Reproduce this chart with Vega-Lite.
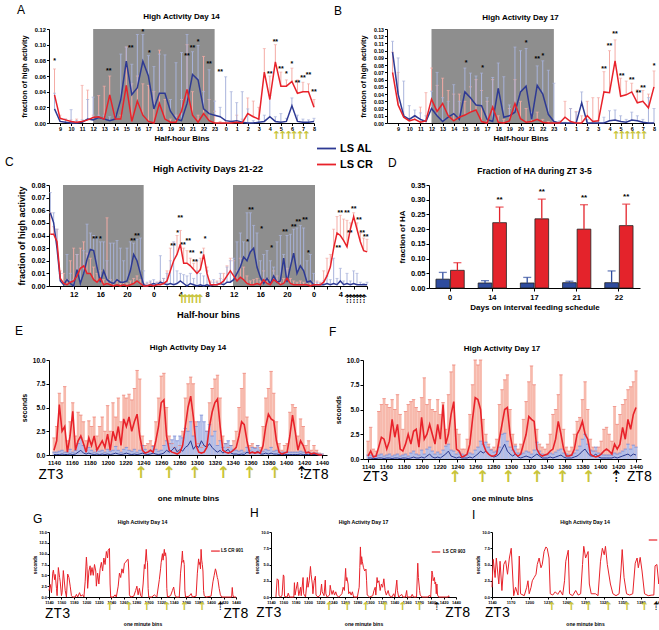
{
"$schema": "https://vega.github.io/schema/vega-lite/v6.json",
"padding": {"left": 5, "top": 4, "right": 0, "bottom": 0},
"background": "white",
"config": {
 "font": "Liberation Sans",
 "view": {"stroke": null},
 "axis": {"grid": false, "domainColor": "#000", "tickColor": "#000", "labelColor": "#000", "titleColor": "#000", "labelFontWeight": "bold", "titleFontWeight": "bold", "domainWidth": 1, "tickWidth": 1, "labelOverlap": false},
 "title": {"fontWeight": "bold", "color": "#000"},
 "legend": {"labelColor": "#000"}
},
"datasets": {
 "A": [
  {"x":8.5,"a":0.018,"ah":0.038,"c":0.036,"ch":0.069},{"x":9,"a":0.002,"ah":0.005,"c":0.006,"ch":0.010},{"x":9.5,"a":0.001,"ah":0.005,"c":0.004,"ch":0.005},{"x":10,"a":0.000,"ah":0.017,"c":0.002,"ch":0.004},{"x":10.5,"a":0.000,"ah":0.003,"c":0.001,"ch":0.005},{"x":11,"a":0.001,"ah":0.004,"c":0.002,"ch":0.048},{"x":11.5,"a":0.005,"ah":0.030,"c":0.004,"ch":0.042},{"x":12,"a":0.004,"ah":0.033,"c":0.007,"ch":0.010},{"x":12.5,"a":0.007,"ah":0.010,"c":0.008,"ch":0.035},{"x":13,"a":0.005,"ah":0.010,"c":0.005,"ch":0.047},{"x":13.5,"a":0.003,"ah":0.008,"c":0.036,"ch":0.060},{"x":14,"a":0.005,"ah":0.010,"c":0.005,"ch":0.010},{"x":14.5,"a":0.030,"ah":0.088,"c":0.005,"ch":0.010},{"x":15,"a":0.079,"ah":0.097,"c":0.048,"ch":0.097},{"x":15.5,"a":0.036,"ah":0.075,"c":0.002,"ch":0.050},{"x":16,"a":0.045,"ah":0.113,"c":0.028,"ch":0.060},{"x":16.5,"a":0.079,"ah":0.113,"c":0.010,"ch":0.050},{"x":17,"a":0.060,"ah":0.086,"c":0.002,"ch":0.048},{"x":17.5,"a":0.018,"ah":0.072,"c":0.000,"ch":0.040},{"x":18,"a":0.038,"ah":0.088,"c":0.025,"ch":0.093},{"x":18.5,"a":0.038,"ah":0.087,"c":0.005,"ch":0.030},{"x":19,"a":0.015,"ah":0.030,"c":0.001,"ch":0.005},{"x":19.5,"a":0.005,"ah":0.077,"c":0.001,"ch":0.010},{"x":20,"a":0.003,"ah":0.090,"c":0.015,"ch":0.030},{"x":20.5,"a":0.025,"ah":0.113,"c":0.043,"ch":0.100},{"x":21,"a":0.062,"ah":0.091,"c":0.010,"ch":0.040},{"x":21.5,"a":0.055,"ah":0.099,"c":0.001,"ch":0.010},{"x":22,"a":0.018,"ah":0.040,"c":0.012,"ch":0.085},{"x":22.5,"a":0.012,"ah":0.068,"c":0.003,"ch":0.030},{"x":23,"a":0.010,"ah":0.028,"c":0.000,"ch":0.015},{"x":23.5,"a":0.008,"ah":0.020,"c":0.000,"ch":0.002},{"x":24,"a":0.003,"ah":0.059,"c":0.000,"ch":0.003},{"x":24.5,"a":0.002,"ah":0.040,"c":0.000,"ch":0.002},{"x":25,"a":0.003,"ah":0.026,"c":0.001,"ch":0.010},{"x":25.5,"a":0.001,"ah":0.040,"c":0.000,"ch":0.005},{"x":26,"a":0.000,"ah":0.018,"c":0.012,"ch":0.032},{"x":26.5,"a":0.000,"ah":0.003,"c":0.008,"ch":0.028},{"x":27,"a":0.001,"ah":0.005,"c":0.005,"ch":0.020},{"x":27.5,"a":0.002,"ah":0.010,"c":0.065,"ch":0.095},{"x":28,"a":0.008,"ah":0.035,"c":0.030,"ch":0.060},{"x":28.5,"a":0.002,"ah":0.008,"c":0.078,"ch":0.100},{"x":29,"a":0.001,"ah":0.012,"c":0.047,"ch":0.065},{"x":29.5,"a":0.002,"ah":0.006,"c":0.047,"ch":0.055},{"x":30,"a":0.022,"ah":0.032,"c":0.053,"ch":0.070},{"x":30.5,"a":0.002,"ah":0.010,"c":0.038,"ch":0.055},{"x":31,"a":0.001,"ah":0.005,"c":0.040,"ch":0.052},{"x":31.5,"a":0.001,"ah":0.004,"c":0.040,"ch":0.050},{"x":32,"a":0.002,"ah":0.006,"c":0.020,"ch":0.030}
 ],
 "sA": [
  {"x":8.5,"y":0.079,"s":"*"},{"x":13.4,"y":0.067,"s":"**"},{"x":15.4,"y":0.096,"s":"**"},{"x":16.5,"y":0.116,"s":"*"},{"x":17.1,"y":0.089,"s":"*"},{"x":20.5,"y":0.086,"s":"**"},{"x":21.0,"y":0.096,"s":"**"},{"x":21.5,"y":0.104,"s":"*"},{"x":22.5,"y":0.075,"s":"**"},{"x":23.5,"y":0.065,"s":"**"},{"x":28.0,"y":0.062,"s":"**"},{"x":28.5,"y":0.104,"s":"**"},{"x":29.0,"y":0.069,"s":"**"},{"x":29.5,"y":0.062,"s":"*"},{"x":30.0,"y":0.075,"s":"*"},{"x":30.5,"y":0.051,"s":"**"},{"x":31.0,"y":0.058,"s":"**"},{"x":31.5,"y":0.061,"s":"**"},{"x":32.0,"y":0.039,"s":"**"}
 ],
 "B": [
  {"x":8.5,"a":0.098,"ah":0.113,"c":0.070,"ch":0.098},{"x":9,"a":0.040,"ah":0.090,"c":0.025,"ch":0.070},{"x":9.5,"a":0.010,"ah":0.058,"c":0.008,"ch":0.012},{"x":10,"a":0.005,"ah":0.024,"c":0.003,"ch":0.005},{"x":10.5,"a":0.010,"ah":0.018,"c":0.005,"ch":0.010},{"x":11,"a":0.005,"ah":0.014,"c":0.001,"ch":0.022},{"x":11.5,"a":0.002,"ah":0.010,"c":0.003,"ch":0.042},{"x":12,"a":0.020,"ah":0.044,"c":0.033,"ch":0.076},{"x":12.5,"a":0.010,"ah":0.070,"c":0.016,"ch":0.052},{"x":13,"a":0.002,"ah":0.035,"c":0.027,"ch":0.062},{"x":13.5,"a":0.008,"ah":0.030,"c":0.010,"ch":0.045},{"x":14,"a":0.013,"ah":0.053,"c":0.003,"ch":0.040},{"x":14.5,"a":0.005,"ah":0.030,"c":0.008,"ch":0.040},{"x":15,"a":0.043,"ah":0.076,"c":0.011,"ch":0.030},{"x":15.5,"a":0.035,"ah":0.069,"c":0.015,"ch":0.050},{"x":16,"a":0.025,"ah":0.065,"c":0.018,"ch":0.060},{"x":16.5,"a":0.024,"ah":0.069,"c":0.002,"ch":0.045},{"x":17,"a":0.005,"ah":0.035,"c":0.000,"ch":0.030},{"x":17.5,"a":0.002,"ah":0.063,"c":0.022,"ch":0.060},{"x":18,"a":0.048,"ah":0.083,"c":0.001,"ch":0.010},{"x":18.5,"a":0.008,"ah":0.064,"c":0.000,"ch":0.005},{"x":19,"a":0.010,"ah":0.025,"c":0.003,"ch":0.020},{"x":19.5,"a":0.015,"ah":0.105,"c":0.027,"ch":0.060},{"x":20,"a":0.043,"ah":0.100,"c":0.006,"ch":0.030},{"x":20.5,"a":0.051,"ah":0.103,"c":0.001,"ch":0.020},{"x":21,"a":0.005,"ah":0.015,"c":0.002,"ch":0.010},{"x":21.5,"a":0.052,"ah":0.079,"c":0.005,"ch":0.015},{"x":22,"a":0.040,"ah":0.086,"c":0.001,"ch":0.005},{"x":22.5,"a":0.012,"ah":0.073,"c":0.000,"ch":0.002},{"x":23,"a":0.002,"ah":0.055,"c":0.000,"ch":0.002},{"x":23.5,"a":0.000,"ah":0.003,"c":0.000,"ch":0.002},{"x":24,"a":0.000,"ah":0.001,"c":0.008,"ch":0.030},{"x":24.5,"a":0.000,"ah":0.020,"c":0.002,"ch":0.020},{"x":25,"a":0.000,"ah":0.015,"c":0.000,"ch":0.016},{"x":25.5,"a":0.028,"ah":0.043,"c":0.000,"ch":0.010},{"x":26,"a":0.000,"ah":0.005,"c":0.010,"ch":0.030},{"x":26.5,"a":0.000,"ah":0.003,"c":0.002,"ch":0.035},{"x":27,"a":0.000,"ah":0.003,"c":0.003,"ch":0.035},{"x":27.5,"a":0.000,"ah":0.008,"c":0.043,"ch":0.071},{"x":28,"a":0.003,"ah":0.017,"c":0.042,"ch":0.100},{"x":28.5,"a":0.004,"ah":0.018,"c":0.086,"ch":0.115},{"x":29,"a":0.002,"ah":0.010,"c":0.037,"ch":0.062},{"x":29.5,"a":0.001,"ah":0.005,"c":0.039,"ch":0.058},{"x":30,"a":0.004,"ah":0.015,"c":0.043,"ch":0.055},{"x":30.5,"a":0.003,"ah":0.010,"c":0.028,"ch":0.046},{"x":31,"a":0.001,"ah":0.005,"c":0.030,"ch":0.045},{"x":31.5,"a":0.000,"ah":0.035,"c":0.021,"ch":0.040},{"x":32,"a":0.000,"ah":0.020,"c":0.050,"ch":0.072}
 ],
 "sB": [
  {"x":15.1,"y":0.083,"s":"*"},{"x":16.6,"y":0.076,"s":"*"},{"x":20.5,"y":0.110,"s":"*"},{"x":21.5,"y":0.088,"s":"**"},{"x":22.0,"y":0.092,"s":"*"},{"x":27.5,"y":0.075,"s":"**"},{"x":28.0,"y":0.106,"s":"**"},{"x":28.5,"y":0.123,"s":"**"},{"x":29.1,"y":0.065,"s":"**"},{"x":30.0,"y":0.059,"s":"**"},{"x":30.6,"y":0.042,"s":"**"},{"x":31.0,"y":0.048,"s":"**"},{"x":32.0,"y":0.079,"s":"*"}
 ],
 "C": [
  {"x":8.5,"a":0.058,"ah":0.074,"c":0.041,"ch":0.058},{"x":9,"a":0.050,"ah":0.058,"c":0.041,"ch":0.047},{"x":9.5,"a":0.030,"ah":0.045,"c":0.035,"ch":0.045},{"x":10,"a":0.004,"ah":0.010,"c":0.006,"ch":0.012},{"x":10.5,"a":0.001,"ah":0.003,"c":0.002,"ch":0.010},{"x":11,"a":0.005,"ah":0.025,"c":0.001,"ch":0.005},{"x":11.5,"a":0.002,"ah":0.010,"c":0.003,"ch":0.020},{"x":12,"a":0.000,"ah":0.005,"c":0.004,"ch":0.030},{"x":12.5,"a":0.013,"ah":0.025,"c":0.008,"ch":0.025},{"x":13,"a":0.002,"ah":0.015,"c":0.014,"ch":0.030},{"x":13.5,"a":0.010,"ah":0.028,"c":0.016,"ch":0.035},{"x":14,"a":0.021,"ah":0.049,"c":0.010,"ch":0.026},{"x":14.5,"a":0.029,"ah":0.042,"c":0.010,"ch":0.022},{"x":15,"a":0.028,"ah":0.040,"c":0.005,"ch":0.015},{"x":15.5,"a":0.015,"ah":0.038,"c":0.003,"ch":0.010},{"x":16,"a":0.003,"ah":0.035,"c":0.006,"ch":0.012},{"x":16.5,"a":0.012,"ah":0.035,"c":0.001,"ch":0.005},{"x":17,"a":0.005,"ah":0.020,"c":0.002,"ch":0.054},{"x":17.5,"a":0.003,"ah":0.034,"c":0.001,"ch":0.005},{"x":18,"a":0.002,"ah":0.034,"c":0.000,"ch":0.003},{"x":18.5,"a":0.005,"ah":0.036,"c":0.001,"ch":0.004},{"x":19,"a":0.003,"ah":0.030,"c":0.000,"ch":0.002},{"x":19.5,"a":0.003,"ah":0.020,"c":0.001,"ch":0.003},{"x":20,"a":0.004,"ah":0.030,"c":0.000,"ch":0.002},{"x":20.5,"a":0.012,"ah":0.035,"c":0.001,"ch":0.004},{"x":21,"a":0.025,"ah":0.034,"c":0.002,"ch":0.006},{"x":21.5,"a":0.020,"ah":0.037,"c":0.004,"ch":0.008},{"x":22,"a":0.010,"ah":0.038,"c":0.002,"ch":0.005},{"x":22.5,"a":0.001,"ah":0.012,"c":0.000,"ch":0.002},{"x":23,"a":0.000,"ah":0.003,"c":0.000,"ch":0.002},{"x":23.5,"a":0.001,"ah":0.004,"c":0.001,"ch":0.003},{"x":24,"a":0.002,"ah":0.005,"c":0.000,"ch":0.002},{"x":24.5,"a":0.001,"ah":0.003,"c":0.001,"ch":0.003},{"x":25,"a":0.003,"ah":0.024,"c":0.001,"ch":0.004},{"x":25.5,"a":0.002,"ah":0.006,"c":0.002,"ch":0.006},{"x":26,"a":0.001,"ah":0.010,"c":0.004,"ch":0.012},{"x":26.5,"a":0.002,"ah":0.020,"c":0.012,"ch":0.030},{"x":27,"a":0.001,"ah":0.035,"c":0.020,"ch":0.034},{"x":27.5,"a":0.002,"ah":0.012,"c":0.025,"ch":0.040},{"x":28,"a":0.004,"ah":0.010,"c":0.033,"ch":0.044},{"x":28.5,"a":0.002,"ah":0.009,"c":0.018,"ch":0.030},{"x":29,"a":0.000,"ah":0.008,"c":0.018,"ch":0.028},{"x":29.5,"a":0.002,"ah":0.010,"c":0.016,"ch":0.022},{"x":30,"a":0.001,"ah":0.006,"c":0.013,"ch":0.018},{"x":30.5,"a":0.000,"ah":0.012,"c":0.010,"ch":0.020},{"x":31,"a":0.001,"ah":0.010,"c":0.013,"ch":0.022},{"x":31.5,"a":0.000,"ah":0.008,"c":0.025,"ch":0.030},{"x":32,"a":0.001,"ah":0.012,"c":0.010,"ch":0.015},{"x":32.5,"a":0.000,"ah":0.003,"c":0.001,"ch":0.004},{"x":33,"a":0.001,"ah":0.005,"c":0.001,"ch":0.003},{"x":33.5,"a":0.001,"ah":0.003,"c":0.001,"ch":0.004},{"x":34,"a":0.002,"ah":0.010,"c":0.002,"ch":0.006},{"x":34.5,"a":0.001,"ah":0.005,"c":0.004,"ch":0.010},{"x":35,"a":0.003,"ah":0.015,"c":0.008,"ch":0.016},{"x":35.5,"a":0.003,"ah":0.020,"c":0.012,"ch":0.022},{"x":36,"a":0.005,"ah":0.022,"c":0.008,"ch":0.020},{"x":36.5,"a":0.010,"ah":0.035,"c":0.004,"ch":0.012},{"x":37,"a":0.015,"ah":0.042,"c":0.007,"ch":0.022},{"x":37.5,"a":0.023,"ah":0.035,"c":0.005,"ch":0.015},{"x":38,"a":0.020,"ah":0.058,"c":0.002,"ch":0.008},{"x":38.5,"a":0.027,"ah":0.058,"c":0.001,"ch":0.004},{"x":39,"a":0.030,"ah":0.048,"c":0.001,"ch":0.005},{"x":39.5,"a":0.015,"ah":0.042,"c":0.002,"ch":0.006},{"x":40,"a":0.007,"ah":0.020,"c":0.001,"ch":0.004},{"x":40.5,"a":0.002,"ah":0.025,"c":0.005,"ch":0.012},{"x":41,"a":0.006,"ah":0.028,"c":0.002,"ch":0.006},{"x":41.5,"a":0.002,"ah":0.020,"c":0.001,"ch":0.004},{"x":42,"a":0.008,"ah":0.015,"c":0.005,"ch":0.012},{"x":42.5,"a":0.003,"ah":0.035,"c":0.003,"ch":0.008},{"x":43,"a":0.004,"ah":0.040,"c":0.001,"ch":0.004},{"x":43.5,"a":0.022,"ah":0.025,"c":0.002,"ch":0.006},{"x":44,"a":0.003,"ah":0.040,"c":0.006,"ch":0.014},{"x":44.5,"a":0.015,"ah":0.041,"c":0.002,"ch":0.006},{"x":45,"a":0.026,"ah":0.045,"c":0.001,"ch":0.004},{"x":45.5,"a":0.010,"ah":0.046,"c":0.001,"ch":0.003},{"x":46,"a":0.016,"ah":0.048,"c":0.001,"ch":0.004},{"x":46.5,"a":0.012,"ah":0.046,"c":0.001,"ch":0.003},{"x":47,"a":0.003,"ah":0.020,"c":0.001,"ch":0.003},{"x":47.5,"a":0.004,"ah":0.025,"c":0.000,"ch":0.002},{"x":48,"a":0.001,"ah":0.010,"c":0.001,"ch":0.003},{"x":48.5,"a":0.001,"ah":0.003,"c":0.001,"ch":0.004},{"x":49,"a":0.001,"ah":0.002,"c":0.001,"ch":0.003},{"x":49.5,"a":0.001,"ah":0.004,"c":0.003,"ch":0.012},{"x":50,"a":0.002,"ah":0.008,"c":0.008,"ch":0.022},{"x":50.5,"a":0.001,"ah":0.005,"c":0.015,"ch":0.025},{"x":51,"a":0.002,"ah":0.022,"c":0.030,"ch":0.045},{"x":51.5,"a":0.001,"ah":0.006,"c":0.042,"ch":0.055},{"x":52,"a":0.004,"ah":0.014,"c":0.040,"ch":0.056},{"x":52.5,"a":0.001,"ah":0.004,"c":0.036,"ch":0.053},{"x":53,"a":0.002,"ah":0.010,"c":0.031,"ch":0.052},{"x":53.5,"a":0.001,"ah":0.004,"c":0.045,"ch":0.050},{"x":54,"a":0.002,"ah":0.012,"c":0.055,"ch":0.058},{"x":54.5,"a":0.001,"ah":0.010,"c":0.045,"ch":0.050},{"x":55,"a":0.001,"ah":0.003,"c":0.035,"ch":0.042},{"x":55.5,"a":0.001,"ah":0.002,"c":0.028,"ch":0.038},{"x":56,"a":0.001,"ah":0.003,"c":0.027,"ch":0.037}
 ],
 "sC": [
  {"x":15.2,"y":0.037,"s":"**"},{"x":16.0,"y":0.037,"s":"*"},{"x":20.9,"y":0.036,"s":"**"},{"x":21.5,"y":0.040,"s":"**"},{"x":26.9,"y":0.032,"s":"**"},{"x":27.6,"y":0.042,"s":"*"},{"x":28.0,"y":0.054,"s":"**"},{"x":28.4,"y":0.0325,"s":"**"},{"x":29.2,"y":0.036,"s":"**"},{"x":29.7,"y":0.026,"s":"**"},{"x":30.2,"y":0.019,"s":"**"},{"x":31.1,"y":0.025,"s":"*"},{"x":31.7,"y":0.037,"s":"*"},{"x":38.1,"y":0.035,"s":"*"},{"x":38.6,"y":0.060,"s":"**"},{"x":40.2,"y":0.045,"s":"*"},{"x":41.7,"y":0.030,"s":"*"},{"x":43.7,"y":0.043,"s":"**"},{"x":45.0,"y":0.047,"s":"**"},{"x":45.7,"y":0.051,"s":"**"},{"x":46.7,"y":0.052,"s":"**"},{"x":47.2,"y":0.026,"s":"*"},{"x":51.7,"y":0.030,"s":"**"},{"x":52.0,"y":0.058,"s":"**"},{"x":53.0,"y":0.058,"s":"**"},{"x":54.0,"y":0.061,"s":"**"},{"x":53.4,"y":0.042,"s":"**"},{"x":54.8,"y":0.052,"s":"**"},{"x":55.3,"y":0.042,"s":"**"},{"x":55.8,"y":0.039,"s":"**"}
 ],
 "D": [
  {"d":"0","g":"AL","v":0.030,"hi":0.053,"s":""},{"d":"0","g":"CR","v":0.060,"hi":0.086,"s":""},
  {"d":"14","g":"AL","v":0.017,"hi":0.025,"s":""},{"d":"14","g":"CR","v":0.222,"hi":0.275,"s":"**"},
  {"d":"17","g":"AL","v":0.017,"hi":0.036,"s":""},{"d":"17","g":"CR","v":0.235,"hi":0.302,"s":"**"},
  {"d":"21","g":"AL","v":0.018,"hi":0.023,"s":""},{"d":"21","g":"CR","v":0.200,"hi":0.283,"s":"**"},
  {"d":"22","g":"AL","v":0.018,"hi":0.058,"s":""},{"d":"22","g":"CR","v":0.212,"hi":0.285,"s":"**"}
 ],
 "E": [
  {"m":1140,"a":0.05,"ah":0.3,"c":0.5,"ch":1.8},{"m":1143,"a":0.05,"ah":0.3,"c":1.5,"ch":3.0},{"m":1146,"a":0.05,"ah":0.4,"c":5.3,"ch":6.5},{"m":1149,"a":0.1,"ah":0.5,"c":2.5,"ch":5.5},{"m":1152,"a":0.05,"ah":0.3,"c":3.0,"ch":7.2},{"m":1155,"a":0.05,"ah":0.3,"c":0.3,"ch":1.5},{"m":1158,"a":0.1,"ah":0.6,"c":2.0,"ch":3.5},{"m":1161,"a":0.05,"ah":0.3,"c":4.6,"ch":5.5},{"m":1164,"a":0.1,"ah":0.5,"c":0.5,"ch":2.0},{"m":1167,"a":0.3,"ah":1.2,"c":1.5,"ch":4.5},{"m":1170,"a":0.5,"ah":1.8,"c":2.0,"ch":4.2},{"m":1173,"a":0.2,"ah":1.0,"c":1.2,"ch":3.5},{"m":1176,"a":0.1,"ah":0.5,"c":0.3,"ch":1.5},{"m":1179,"a":0.2,"ah":0.8,"c":1.8,"ch":3.6},{"m":1182,"a":0.1,"ah":0.5,"c":1.0,"ch":3.0},{"m":1185,"a":0.05,"ah":0.3,"c":2.0,"ch":4.0},{"m":1188,"a":0.1,"ah":0.6,"c":0.5,"ch":2.0},{"m":1191,"a":0.05,"ah":0.4,"c":1.0,"ch":3.0},{"m":1194,"a":0.1,"ah":0.5,"c":1.5,"ch":4.0},{"m":1197,"a":0.05,"ah":0.3,"c":0.8,"ch":2.5},{"m":1200,"a":0.1,"ah":0.6,"c":2.2,"ch":5.2},{"m":1203,"a":0.05,"ah":0.4,"c":0.5,"ch":2.5},{"m":1206,"a":0.1,"ah":0.5,"c":2.5,"ch":5.5},{"m":1209,"a":0.2,"ah":0.9,"c":1.5,"ch":4.0},{"m":1212,"a":0.1,"ah":0.5,"c":3.0,"ch":6.0},{"m":1215,"a":0.05,"ah":0.3,"c":1.0,"ch":3.5},{"m":1218,"a":0.1,"ah":0.6,"c":3.8,"ch":6.3},{"m":1221,"a":0.2,"ah":0.8,"c":3.0,"ch":6.0},{"m":1224,"a":0.1,"ah":0.5,"c":4.0,"ch":6.4},{"m":1227,"a":0.05,"ah":0.4,"c":2.5,"ch":5.8},{"m":1230,"a":0.1,"ah":0.6,"c":3.5,"ch":7.0},{"m":1233,"a":0.05,"ah":0.3,"c":4.3,"ch":8.9},{"m":1236,"a":0.1,"ah":0.5,"c":2.0,"ch":8.0},{"m":1239,"a":0.2,"ah":1.0,"c":0.5,"ch":2.0},{"m":1242,"a":0.1,"ah":0.6,"c":0.2,"ch":1.0},{"m":1245,"a":0.05,"ah":0.3,"c":0.3,"ch":1.2},{"m":1248,"a":0.1,"ah":0.5,"c":0.5,"ch":1.5},{"m":1251,"a":0.2,"ah":0.9,"c":0.3,"ch":1.0},{"m":1254,"a":0.1,"ah":0.6,"c":1.5,"ch":3.5},{"m":1257,"a":0.05,"ah":0.4,"c":3.0,"ch":6.0},{"m":1260,"a":0.1,"ah":0.5,"c":5.5,"ch":8.3},{"m":1263,"a":0.2,"ah":1.0,"c":5.8,"ch":8.6},{"m":1266,"a":0.5,"ah":1.5,"c":2.0,"ch":5.0},{"m":1269,"a":0.3,"ah":1.2,"c":0.5,"ch":2.0},{"m":1272,"a":0.5,"ah":1.6,"c":0.3,"ch":1.2},{"m":1275,"a":0.8,"ah":2.0,"c":0.2,"ch":0.8},{"m":1278,"a":0.3,"ah":1.5,"c":0.1,"ch":0.5},{"m":1281,"a":0.6,"ah":2.0,"c":0.3,"ch":1.0},{"m":1284,"a":0.4,"ah":1.8,"c":1.0,"ch":2.5},{"m":1287,"a":0.8,"ah":2.8,"c":3.0,"ch":6.0},{"m":1290,"a":1.0,"ah":2.5,"c":5.0,"ch":7.5},{"m":1293,"a":1.5,"ah":3.5,"c":6.2,"ch":8.2},{"m":1296,"a":0.6,"ah":2.0,"c":4.0,"ch":7.5},{"m":1299,"a":1.0,"ah":3.0,"c":1.0,"ch":3.5},{"m":1302,"a":0.8,"ah":3.5,"c":0.3,"ch":1.2},{"m":1305,"a":1.5,"ah":4.2,"c":0.2,"ch":0.8},{"m":1308,"a":1.0,"ah":3.5,"c":0.3,"ch":1.0},{"m":1311,"a":0.8,"ah":2.5,"c":0.8,"ch":2.5},{"m":1314,"a":1.2,"ah":3.2,"c":3.0,"ch":5.5},{"m":1317,"a":0.8,"ah":2.0,"c":4.5,"ch":7.0},{"m":1320,"a":0.5,"ah":2.5,"c":5.5,"ch":8.0},{"m":1323,"a":0.3,"ah":1.0,"c":5.9,"ch":8.4},{"m":1326,"a":0.5,"ah":1.5,"c":3.0,"ch":6.0},{"m":1329,"a":0.2,"ah":0.8,"c":0.5,"ch":2.0},{"m":1332,"a":0.4,"ah":1.2,"c":0.3,"ch":1.2},{"m":1335,"a":0.6,"ah":1.5,"c":0.2,"ch":0.8},{"m":1338,"a":0.2,"ah":1.0,"c":0.3,"ch":1.0},{"m":1341,"a":0.1,"ah":0.6,"c":0.5,"ch":1.5},{"m":1344,"a":0.1,"ah":0.5,"c":0.8,"ch":2.5},{"m":1347,"a":0.05,"ah":0.4,"c":2.0,"ch":5.0},{"m":1350,"a":0.1,"ah":0.5,"c":3.5,"ch":7.0},{"m":1353,"a":0.05,"ah":0.3,"c":3.2,"ch":8.6},{"m":1356,"a":0.3,"ah":0.8,"c":1.5,"ch":4.0},{"m":1359,"a":0.2,"ah":0.5,"c":0.2,"ch":1.0},{"m":1362,"a":0.3,"ah":0.8,"c":0.3,"ch":1.2},{"m":1365,"a":0.2,"ah":0.7,"c":0.2,"ch":0.8},{"m":1368,"a":0.4,"ah":1.0,"c":0.3,"ch":1.0},{"m":1371,"a":0.1,"ah":0.5,"c":0.2,"ch":0.8},{"m":1374,"a":0.1,"ah":0.4,"c":1.0,"ch":3.0},{"m":1377,"a":0.2,"ah":0.6,"c":3.0,"ch":6.0},{"m":1380,"a":0.1,"ah":0.5,"c":4.3,"ch":7.0},{"m":1383,"a":0.2,"ah":0.8,"c":3.8,"ch":8.8},{"m":1386,"a":0.1,"ah":0.4,"c":3.6,"ch":6.5},{"m":1389,"a":0.1,"ah":0.5,"c":1.5,"ch":3.5},{"m":1392,"a":0.05,"ah":0.3,"c":0.3,"ch":1.2},{"m":1395,"a":0.05,"ah":0.3,"c":0.1,"ch":0.5},{"m":1398,"a":0.05,"ah":0.3,"c":0.2,"ch":1.0},{"m":1401,"a":0.05,"ah":0.3,"c":0.3,"ch":1.2},{"m":1404,"a":0.05,"ah":0.3,"c":2.0,"ch":4.5},{"m":1407,"a":0.05,"ah":0.3,"c":4.2,"ch":5.3},{"m":1410,"a":0.05,"ah":0.3,"c":2.5,"ch":5.0},{"m":1413,"a":0.05,"ah":0.3,"c":0.5,"ch":2.0},{"m":1416,"a":0.1,"ah":0.4,"c":1.5,"ch":3.8},{"m":1419,"a":0.05,"ah":0.3,"c":1.0,"ch":3.0},{"m":1422,"a":0.05,"ah":0.3,"c":0.2,"ch":1.0},{"m":1425,"a":0.05,"ah":0.3,"c":0.3,"ch":1.5},{"m":1428,"a":0.05,"ah":0.2,"c":0.1,"ch":0.5},{"m":1431,"a":0.05,"ah":0.2,"c":0.2,"ch":1.0},{"m":1434,"a":0.05,"ah":0.2,"c":0.1,"ch":0.5},{"m":1437,"a":0.0,"ah":0.1,"c":0.0,"ch":0.2},{"m":1440,"a":0.0,"ah":0.1,"c":0.0,"ch":0.1}
 ],
 "F": [
  {"m":1140,"a":0.1,"ah":0.4,"c":0.3,"ch":1.8},{"m":1143,"a":0.1,"ah":0.4,"c":0.8,"ch":3.2},{"m":1146,"a":0.05,"ah":0.3,"c":0.2,"ch":1.0},{"m":1149,"a":0.05,"ah":0.3,"c":0.3,"ch":0.8},{"m":1152,"a":0.1,"ah":0.4,"c":1.2,"ch":4.8},{"m":1155,"a":0.1,"ah":0.5,"c":2.2,"ch":5.5},{"m":1158,"a":0.05,"ah":0.3,"c":2.0,"ch":6.1},{"m":1161,"a":0.1,"ah":0.4,"c":1.0,"ch":5.5},{"m":1164,"a":0.1,"ah":0.5,"c":1.8,"ch":5.2},{"m":1167,"a":0.05,"ah":0.3,"c":4.0,"ch":6.0},{"m":1170,"a":0.1,"ah":0.4,"c":2.2,"ch":5.0},{"m":1173,"a":0.1,"ah":0.5,"c":3.5,"ch":6.5},{"m":1176,"a":0.05,"ah":0.3,"c":1.0,"ch":4.5},{"m":1179,"a":0.1,"ah":0.4,"c":0.8,"ch":3.0},{"m":1182,"a":0.1,"ah":0.5,"c":1.5,"ch":4.8},{"m":1185,"a":0.05,"ah":0.3,"c":2.5,"ch":5.5},{"m":1188,"a":0.1,"ah":0.6,"c":1.5,"ch":5.8},{"m":1191,"a":0.2,"ah":0.8,"c":2.8,"ch":6.0},{"m":1194,"a":0.1,"ah":0.5,"c":3.0,"ch":5.2},{"m":1197,"a":0.1,"ah":0.4,"c":1.2,"ch":4.8},{"m":1200,"a":0.2,"ah":0.9,"c":4.2,"ch":6.2},{"m":1203,"a":0.1,"ah":0.5,"c":2.0,"ch":8.2},{"m":1206,"a":0.3,"ah":1.0,"c":2.5,"ch":5.5},{"m":1209,"a":0.5,"ah":1.2,"c":3.5,"ch":6.0},{"m":1212,"a":0.2,"ah":0.8,"c":2.5,"ch":5.0},{"m":1215,"a":0.1,"ah":0.5,"c":1.5,"ch":4.8},{"m":1218,"a":0.2,"ah":0.7,"c":3.5,"ch":6.0},{"m":1221,"a":0.1,"ah":0.5,"c":2.0,"ch":4.5},{"m":1224,"a":0.3,"ah":0.9,"c":5.5,"ch":5.7},{"m":1227,"a":0.5,"ah":1.3,"c":1.5,"ch":3.0},{"m":1230,"a":0.8,"ah":1.5,"c":2.5,"ch":6.5},{"m":1233,"a":0.3,"ah":0.9,"c":4.5,"ch":8.8},{"m":1236,"a":0.2,"ah":0.8,"c":5.8,"ch":9.5},{"m":1239,"a":0.1,"ah":0.5,"c":1.0,"ch":3.0},{"m":1242,"a":0.2,"ah":0.7,"c":0.8,"ch":2.5},{"m":1245,"a":0.1,"ah":0.5,"c":0.2,"ch":1.0},{"m":1248,"a":0.1,"ah":0.4,"c":0.3,"ch":1.0},{"m":1251,"a":0.1,"ah":0.4,"c":0.5,"ch":2.0},{"m":1254,"a":0.2,"ah":0.6,"c":1.5,"ch":4.5},{"m":1257,"a":0.1,"ah":0.5,"c":4.0,"ch":7.5},{"m":1260,"a":0.3,"ah":0.9,"c":6.2,"ch":10.0},{"m":1263,"a":0.5,"ah":1.2,"c":6.0,"ch":9.5},{"m":1266,"a":0.8,"ah":1.8,"c":5.0,"ch":10.0},{"m":1269,"a":0.6,"ah":1.5,"c":1.5,"ch":4.0},{"m":1272,"a":0.8,"ah":1.7,"c":0.8,"ch":2.5},{"m":1275,"a":0.5,"ah":1.2,"c":0.5,"ch":1.5},{"m":1278,"a":0.3,"ah":0.9,"c":0.3,"ch":1.0},{"m":1281,"a":0.2,"ah":0.7,"c":0.3,"ch":1.2},{"m":1284,"a":0.3,"ah":0.8,"c":0.5,"ch":2.0},{"m":1287,"a":0.5,"ah":1.2,"c":2.0,"ch":5.5},{"m":1290,"a":1.0,"ah":2.5,"c":3.5,"ch":7.0},{"m":1293,"a":1.5,"ah":2.6,"c":5.0,"ch":8.0},{"m":1296,"a":0.8,"ah":1.8,"c":5.2,"ch":8.5},{"m":1299,"a":0.5,"ah":1.2,"c":2.5,"ch":5.0},{"m":1302,"a":0.3,"ah":0.9,"c":1.0,"ch":2.5},{"m":1305,"a":0.5,"ah":1.3,"c":0.5,"ch":1.5},{"m":1308,"a":0.2,"ah":0.6,"c":0.3,"ch":1.0},{"m":1311,"a":0.1,"ah":0.5,"c":0.5,"ch":1.5},{"m":1314,"a":0.2,"ah":0.6,"c":1.5,"ch":4.0},{"m":1317,"a":0.3,"ah":0.8,"c":2.5,"ch":5.8},{"m":1320,"a":0.2,"ah":0.7,"c":4.3,"ch":7.8},{"m":1323,"a":0.1,"ah":0.5,"c":4.0,"ch":9.4},{"m":1326,"a":0.3,"ah":0.9,"c":3.8,"ch":7.5},{"m":1329,"a":0.5,"ah":1.7,"c":1.0,"ch":3.0},{"m":1332,"a":0.3,"ah":0.8,"c":0.5,"ch":1.5},{"m":1335,"a":0.1,"ah":0.5,"c":0.3,"ch":1.2},{"m":1338,"a":0.1,"ah":0.4,"c":0.4,"ch":1.0},{"m":1341,"a":0.1,"ah":0.4,"c":0.5,"ch":1.5},{"m":1344,"a":0.2,"ah":0.6,"c":0.8,"ch":2.5},{"m":1347,"a":0.1,"ah":0.5,"c":1.0,"ch":4.5},{"m":1350,"a":0.2,"ah":0.7,"c":2.0,"ch":5.0},{"m":1353,"a":0.3,"ah":0.9,"c":3.8,"ch":6.5},{"m":1356,"a":0.4,"ah":1.0,"c":2.5,"ch":8.5},{"m":1359,"a":0.2,"ah":0.6,"c":1.0,"ch":3.0},{"m":1362,"a":0.1,"ah":0.5,"c":0.3,"ch":1.2},{"m":1365,"a":0.1,"ah":0.4,"c":0.3,"ch":0.8},{"m":1368,"a":0.1,"ah":0.4,"c":0.4,"ch":1.2},{"m":1371,"a":0.2,"ah":0.6,"c":1.0,"ch":2.5},{"m":1374,"a":0.3,"ah":0.9,"c":2.5,"ch":3.8},{"m":1377,"a":0.5,"ah":1.3,"c":3.0,"ch":4.2},{"m":1380,"a":0.8,"ah":2.0,"c":3.8,"ch":6.0},{"m":1383,"a":1.0,"ah":2.5,"c":2.5,"ch":7.8},{"m":1386,"a":0.6,"ah":1.5,"c":2.0,"ch":5.0},{"m":1389,"a":0.3,"ah":0.9,"c":0.5,"ch":2.0},{"m":1392,"a":0.3,"ah":0.8,"c":0.3,"ch":1.2},{"m":1395,"a":0.5,"ah":1.2,"c":0.2,"ch":0.8},{"m":1398,"a":0.2,"ah":0.6,"c":0.3,"ch":1.2},{"m":1401,"a":0.1,"ah":0.5,"c":0.5,"ch":1.8},{"m":1404,"a":0.1,"ah":0.4,"c":0.8,"ch":3.0},{"m":1407,"a":0.1,"ah":0.4,"c":1.0,"ch":3.2},{"m":1410,"a":0.1,"ah":0.4,"c":0.8,"ch":2.5},{"m":1413,"a":0.1,"ah":0.4,"c":0.5,"ch":1.8},{"m":1416,"a":0.2,"ah":0.6,"c":1.5,"ch":5.3},{"m":1419,"a":0.1,"ah":0.5,"c":1.0,"ch":3.5},{"m":1422,"a":0.2,"ah":0.6,"c":1.5,"ch":4.5},{"m":1425,"a":0.3,"ah":0.8,"c":3.2,"ch":5.5},{"m":1428,"a":0.4,"ah":1.0,"c":2.0,"ch":6.0},{"m":1431,"a":0.5,"ah":1.5,"c":4.0,"ch":7.0},{"m":1434,"a":0.3,"ah":1.0,"c":3.0,"ch":7.3},{"m":1437,"a":0.5,"ah":1.4,"c":4.5,"ch":7.8},{"m":1440,"a":0.4,"ah":1.2,"c":5.2,"ch":8.9}
 ],
 "G": [
  {"m":1140,"v":1.5},{"m":1142,"v":2.9},{"m":1144,"v":1.0},{"m":1146,"v":5.5},{"m":1147,"v":6.2},{"m":1149,"v":4.0},{"m":1150,"v":5.2},{"m":1152,"v":2.0},{"m":1153,"v":0.3},{"m":1155,"v":6.8},{"m":1157,"v":4.5},{"m":1158,"v":3.5},{"m":1160,"v":0.3},{"m":1161,"v":1.0},{"m":1163,"v":6.1},{"m":1165,"v":3.0},{"m":1166,"v":1.5},{"m":1168,"v":0.0},{"m":1170,"v":5.3},{"m":1172,"v":4.5},{"m":1174,"v":2.5},{"m":1176,"v":0.3},{"m":1178,"v":0.0},{"m":1182,"v":0.0},{"m":1184,"v":0.6},{"m":1186,"v":0.0},{"m":1189,"v":1.0},{"m":1191,"v":0.2},{"m":1194,"v":0.5},{"m":1196,"v":0.0},{"m":1198,"v":3.5},{"m":1200,"v":9.2},{"m":1201,"v":7.0},{"m":1202,"v":2.0},{"m":1204,"v":6.0},{"m":1206,"v":7.2},{"m":1207,"v":5.0},{"m":1209,"v":6.8},{"m":1211,"v":5.0},{"m":1213,"v":7.5},{"m":1215,"v":6.0},{"m":1216,"v":2.5},{"m":1218,"v":5.5},{"m":1220,"v":3.0},{"m":1222,"v":6.5},{"m":1224,"v":8.0},{"m":1226,"v":6.0},{"m":1228,"v":9.0},{"m":1230,"v":7.5},{"m":1232,"v":10.5},{"m":1234,"v":9.0},{"m":1235,"v":10.8},{"m":1237,"v":11.2},{"m":1238,"v":3.0},{"m":1239,"v":0.0},{"m":1243,"v":0.0},{"m":1246,"v":0.5},{"m":1248,"v":0.0},{"m":1251,"v":2.5},{"m":1253,"v":5.5},{"m":1255,"v":4.5},{"m":1257,"v":6.5},{"m":1259,"v":5.5},{"m":1261,"v":7.8},{"m":1263,"v":8.0},{"m":1265,"v":8.5},{"m":1267,"v":8.7},{"m":1268,"v":6.0},{"m":1269,"v":0.5},{"m":1271,"v":0.0},{"m":1276,"v":0.2},{"m":1279,"v":1.5},{"m":1281,"v":2.5},{"m":1283,"v":0.5},{"m":1285,"v":2.0},{"m":1287,"v":0.3},{"m":1289,"v":0.0},{"m":1291,"v":3.0},{"m":1293,"v":7.5},{"m":1294,"v":6.5},{"m":1295,"v":9.0},{"m":1296,"v":11.0},{"m":1297,"v":8.5},{"m":1298,"v":8.0},{"m":1299,"v":2.0},{"m":1300,"v":0.0},{"m":1305,"v":0.0},{"m":1309,"v":0.5},{"m":1313,"v":0.0},{"m":1317,"v":4.0},{"m":1319,"v":6.5},{"m":1320,"v":8.0},{"m":1322,"v":10.0},{"m":1323,"v":8.5},{"m":1325,"v":11.0},{"m":1326,"v":9.5},{"m":1327,"v":10.2},{"m":1328,"v":9.0},{"m":1329,"v":2.0},{"m":1330,"v":0.0},{"m":1335,"v":0.3},{"m":1338,"v":1.5},{"m":1340,"v":2.3},{"m":1342,"v":0.5},{"m":1344,"v":0.0},{"m":1349,"v":0.0},{"m":1351,"v":5.5},{"m":1353,"v":8.5},{"m":1354,"v":10.6},{"m":1355,"v":8.0},{"m":1356,"v":8.5},{"m":1357,"v":7.5},{"m":1358,"v":1.5},{"m":1359,"v":0.0},{"m":1365,"v":0.2},{"m":1368,"v":0.8},{"m":1370,"v":0.0},{"m":1376,"v":0.2},{"m":1378,"v":5.5},{"m":1380,"v":8.8},{"m":1381,"v":7.5},{"m":1382,"v":8.0},{"m":1383,"v":6.5},{"m":1384,"v":11.0},{"m":1385,"v":8.5},{"m":1386,"v":7.5},{"m":1387,"v":6.0},{"m":1388,"v":1.5},{"m":1389,"v":0.3},{"m":1392,"v":0.0},{"m":1400,"v":0.2},{"m":1403,"v":3.5},{"m":1405,"v":5.0},{"m":1407,"v":6.5},{"m":1408,"v":6.0},{"m":1410,"v":4.5},{"m":1411,"v":4.0},{"m":1413,"v":2.0},{"m":1415,"v":0.5},{"m":1417,"v":0.0},{"m":1433,"v":0.0},{"m":1434,"v":2.2},{"m":1435,"v":0.5},{"m":1436,"v":0.0},{"m":1440,"v":0.0}
 ],
 "H": [
  {"m":1148,"v":0.0},{"m":1150,"v":2.8},{"m":1152,"v":2.6},{"m":1153,"v":0.2},{"m":1156,"v":0.0},{"m":1158,"v":0.3},{"m":1160,"v":3.4},{"m":1161,"v":3.2},{"m":1162,"v":0.1},{"m":1166,"v":0.0},{"m":1168,"v":0.6},{"m":1170,"v":0.0},{"m":1177,"v":0.0},{"m":1178,"v":2.2},{"m":1179,"v":0.3},{"m":1183,"v":2.3},{"m":1184,"v":1.2},{"m":1185,"v":0.2},{"m":1188,"v":1.5},{"m":1189,"v":0.2},{"m":1191,"v":2.0},{"m":1192,"v":3.0},{"m":1193,"v":0.5},{"m":1196,"v":0.0},{"m":1199,"v":3.0},{"m":1200,"v":1.5},{"m":1202,"v":2.5},{"m":1204,"v":4.7},{"m":1205,"v":3.5},{"m":1207,"v":2.0},{"m":1208,"v":0.5},{"m":1210,"v":2.5},{"m":1212,"v":3.2},{"m":1213,"v":0.3},{"m":1216,"v":0.0},{"m":1220,"v":0.3},{"m":1222,"v":2.0},{"m":1223,"v":0.8},{"m":1226,"v":0.2},{"m":1228,"v":2.6},{"m":1229,"v":0.5},{"m":1231,"v":0.0},{"m":1235,"v":0.3},{"m":1236,"v":1.8},{"m":1237,"v":1.2},{"m":1239,"v":0.4},{"m":1241,"v":1.0},{"m":1243,"v":0.3},{"m":1245,"v":0.8},{"m":1247,"v":0.2},{"m":1250,"v":0.0},{"m":1255,"v":0.5},{"m":1257,"v":1.5},{"m":1259,"v":1.0},{"m":1261,"v":4.4},{"m":1262,"v":2.5},{"m":1263,"v":3.0},{"m":1265,"v":2.0},{"m":1266,"v":0.5},{"m":1268,"v":0.8},{"m":1270,"v":0.3},{"m":1272,"v":0.8},{"m":1274,"v":0.0},{"m":1280,"v":0.0},{"m":1283,"v":1.5},{"m":1284,"v":4.5},{"m":1285,"v":7.7},{"m":1286,"v":5.0},{"m":1287,"v":6.2},{"m":1288,"v":5.5},{"m":1290,"v":4.5},{"m":1292,"v":4.0},{"m":1294,"v":4.3},{"m":1295,"v":2.5},{"m":1296,"v":0.3},{"m":1300,"v":0.0},{"m":1305,"v":0.2},{"m":1307,"v":1.0},{"m":1309,"v":1.5},{"m":1310,"v":0.3},{"m":1312,"v":3.0},{"m":1313,"v":2.2},{"m":1315,"v":2.5},{"m":1317,"v":1.0},{"m":1319,"v":2.0},{"m":1321,"v":1.5},{"m":1323,"v":2.8},{"m":1325,"v":1.0},{"m":1327,"v":0.3},{"m":1330,"v":1.0},{"m":1332,"v":0.2},{"m":1336,"v":0.0},{"m":1339,"v":0.5},{"m":1341,"v":0.0},{"m":1344,"v":2.6},{"m":1345,"v":1.0},{"m":1347,"v":0.0},{"m":1352,"v":0.4},{"m":1354,"v":0.0},{"m":1358,"v":0.0},{"m":1360,"v":1.0},{"m":1361,"v":0.0},{"m":1367,"v":0.0},{"m":1369,"v":0.4},{"m":1371,"v":0.0},{"m":1376,"v":0.0},{"m":1378,"v":5.2},{"m":1379,"v":3.0},{"m":1381,"v":1.0},{"m":1382,"v":0.3},{"m":1385,"v":0.0},{"m":1395,"v":0.0},{"m":1397,"v":0.3},{"m":1399,"v":0.0},{"m":1401,"v":4.0},{"m":1402,"v":3.5},{"m":1403,"v":2.5},{"m":1405,"v":3.0},{"m":1406,"v":2.0},{"m":1407,"v":2.3},{"m":1408,"v":0.5},{"m":1409,"v":2.0},{"m":1410,"v":0.3},{"m":1412,"v":0.0},{"m":1427,"v":0.0},{"m":1428,"v":0.2},{"m":1429,"v":0.0}
 ],
 "I": [
  {"m":1140,"v":1.5},{"m":1142,"v":5.8},{"m":1145,"v":3.0},{"m":1147,"v":6.0},{"m":1151,"v":2.0},{"m":1153,"v":5.5},{"m":1156,"v":1.0},{"m":1159,"v":5.0},{"m":1162,"v":5.6},{"m":1165,"v":3.5},{"m":1168,"v":6.0},{"m":1171,"v":7.5},{"m":1173,"v":4.0},{"m":1175,"v":0.2},{"m":1178,"v":1.5},{"m":1182,"v":0.3},{"m":1184,"v":6.3},{"m":1186,"v":0.5},{"m":1192,"v":0.2},{"m":1196,"v":1.5},{"m":1198,"v":2.5},{"m":1200,"v":0.5},{"m":1203,"v":1.5},{"m":1205,"v":2.5},{"m":1208,"v":3.0},{"m":1211,"v":3.5},{"m":1213,"v":5.0},{"m":1216,"v":6.0},{"m":1219,"v":4.5},{"m":1221,"v":5.0},{"m":1224,"v":7.0},{"m":1227,"v":7.7},{"m":1229,"v":7.5},{"m":1232,"v":6.0},{"m":1234,"v":0.5},{"m":1238,"v":0.3},{"m":1242,"v":0.8},{"m":1246,"v":0.4},{"m":1250,"v":1.0},{"m":1254,"v":0.3},{"m":1257,"v":2.5},{"m":1259,"v":5.5},{"m":1263,"v":7.2},{"m":1265,"v":0.5},{"m":1270,"v":0.2},{"m":1275,"v":1.0},{"m":1279,"v":0.3},{"m":1283,"v":0.5},{"m":1286,"v":5.0},{"m":1288,"v":7.8},{"m":1291,"v":6.0},{"m":1295,"v":7.0},{"m":1297,"v":2.0},{"m":1300,"v":0.5},{"m":1307,"v":0.5},{"m":1311,"v":0.2},{"m":1315,"v":5.5},{"m":1318,"v":7.5},{"m":1321,"v":6.5},{"m":1323,"v":7.8},{"m":1326,"v":5.0},{"m":1331,"v":2.0},{"m":1335,"v":0.5},{"m":1340,"v":0.2},{"m":1345,"v":0.5},{"m":1348,"v":4.0},{"m":1350,"v":7.3},{"m":1353,"v":3.0},{"m":1357,"v":0.5},{"m":1362,"v":0.3},{"m":1367,"v":0.5},{"m":1371,"v":5.2},{"m":1374,"v":6.0},{"m":1376,"v":4.5},{"m":1379,"v":6.1},{"m":1382,"v":4.0},{"m":1386,"v":0.5},{"m":1392,"v":0.2},{"m":1398,"v":0.3},{"m":1401,"v":0.3},{"m":1403,"v":4.8},{"m":1406,"v":5.0},{"m":1409,"v":2.0},{"m":1412,"v":5.0},{"m":1415,"v":3.0},{"m":1417,"v":7.2},{"m":1420,"v":5.5},{"m":1422,"v":3.0},{"m":1425,"v":1.5},{"m":1429,"v":0.3},{"m":1433,"v":0.5},{"m":1436,"v":1.0},{"m":1438,"v":2.8}
 ]
},
"spacing": 5,
"resolve": {"scale": {"color": "independent"}, "legend": {"color": "independent"}},
"vconcat": [
 {"spacing": -4, "resolve": {"scale": {"color": "independent"}, "legend": {"color": "independent"}}, "vconcat": [
  {"spacing": 17, "resolve": {"scale": {"color": "independent"}, "legend": {"color": "independent"}}, "hconcat": [
    {"bounds": "flush", "title": {"text": "A", "anchor": "start", "frame": "group", "fontSize": 12, "fontWeight": "normal", "dx": -32, "dy": 4, "offset": 0},
     "vconcat": [{
      "width": 265, "height": 94,
      "title": {"text": "High Activity Day 14", "fontSize": 8, "offset": 5},
      "layer": [
       {"data": {"values": [{"s": 12, "e": 23}]}, "mark": {"type": "rect", "color": "#8E8E8E"},
        "encoding": {"x": {"field": "s", "type": "quantitative", "scale": {"domain": [8, 32], "nice": false, "zero": false},
          "axis": {"title": "Half-hour Bins", "values": [9,10,11,12,13,14,15,16,17,18,19,20,21,22,23,24,25,26,27,28,29,30,31,32], "tickCount": 200, "labelExpr": "'' + (datum.value % 24)", "labelFontSize": 5.5, "titleFontSize": 8, "tickSize": 2.5, "labelPadding": 1, "titlePadding": 2, "labelOverlap": false, "labelFlush": false}},
         "x2": {"field": "e"}}},
       {"data": {"name": "A"}, "mark": {"type": "rule", "color": "#F4ABA5", "strokeWidth": 1},
        "encoding": {"x": {"field": "x", "type": "quantitative"}, "y": {"field": "c", "type": "quantitative", "scale": {"domain": [0, 0.12], "nice": false},
          "axis": {"title": "fraction of high activity", "values": [0,0.02,0.04,0.06,0.08,0.1,0.12], "tickCount": 200, "format": ".2f", "labelFontSize": 5.8, "titleFontSize": 7.5, "tickSize": 2.5, "labelPadding": 1, "titlePadding": 6, "labelFlush": false, "labelOverlap": false}},
         "y2": {"field": "ch"}}},
       {"data": {"name": "A"}, "mark": {"type": "tick", "orient": "horizontal", "color": "#F4ABA5", "size": 3, "thickness": 1},
        "encoding": {"x": {"field": "x", "type": "quantitative"}, "y": {"field": "ch", "type": "quantitative"}}},
       {"data": {"name": "A"}, "mark": {"type": "rule", "color": "#A9B4DC", "strokeWidth": 1},
        "encoding": {"x": {"field": "x", "type": "quantitative"}, "y": {"field": "a", "type": "quantitative"}, "y2": {"field": "ah"}}},
       {"data": {"name": "A"}, "mark": {"type": "tick", "orient": "horizontal", "color": "#A9B4DC", "size": 3, "thickness": 1},
        "encoding": {"x": {"field": "x", "type": "quantitative"}, "y": {"field": "ah", "type": "quantitative"}}},
       {"data": {"name": "A"}, "mark": {"type": "line", "color": "#2E3A94", "strokeWidth": 1.5},
        "encoding": {"x": {"field": "x", "type": "quantitative"}, "y": {"field": "a", "type": "quantitative"}}},
       {"data": {"name": "A"}, "mark": {"type": "line", "color": "#E8222A", "strokeWidth": 1.5},
        "encoding": {"x": {"field": "x", "type": "quantitative"}, "y": {"field": "c", "type": "quantitative"}}},
       {"data": {"name": "sA"}, "mark": {"type": "text", "fontSize": 7, "fontWeight": "bold", "baseline": "middle"},
        "encoding": {"x": {"field": "x", "type": "quantitative"}, "y": {"field": "y", "type": "quantitative"}, "text": {"field": "s"}}},
       {"data": {"values": [{"x": 28.6}, {"x": 29.15}, {"x": 29.7}, {"x": 30.2}, {"x": 30.75}, {"x": 31.3}]},
        "mark": {"type": "text", "text": "↑", "font": "DejaVu Sans", "fontSize": 11, "fontWeight": "bold", "color": "#C8C43A", "baseline": "top", "dy": 7},
        "encoding": {"x": {"field": "x", "type": "quantitative"}, "y": {"datum": 0, "type": "quantitative"}}}
      ]
     }]},
    {"bounds": "flush", "title": {"text": "B", "anchor": "start", "frame": "group", "fontSize": 12, "fontWeight": "normal", "dx": -53, "dy": 4, "offset": 0},
     "vconcat": [{
      "width": 267, "height": 94,
      "title": {"text": "High Activity Day 17", "fontSize": 8, "offset": 5},
      "layer": [
       {"data": {"values": [{"s": 12, "e": 23}]}, "mark": {"type": "rect", "color": "#8E8E8E"},
        "encoding": {"x": {"field": "s", "type": "quantitative", "scale": {"domain": [8, 32], "nice": false, "zero": false},
          "axis": {"title": "Half-hour Bins", "values": [9,10,11,12,13,14,15,16,17,18,19,20,21,22,23,24,25,26,27,28,29,30,31,32], "tickCount": 200, "labelExpr": "'' + (datum.value % 24)", "labelFontSize": 5.5, "titleFontSize": 8, "tickSize": 2.5, "labelPadding": 1, "titlePadding": 2, "labelOverlap": false, "labelFlush": false}},
         "x2": {"field": "e"}}},
       {"data": {"name": "B"}, "mark": {"type": "rule", "color": "#F4ABA5", "strokeWidth": 1},
        "encoding": {"x": {"field": "x", "type": "quantitative"}, "y": {"field": "c", "type": "quantitative", "scale": {"domain": [0, 0.13], "nice": false},
          "axis": {"title": "fraction of high activity", "values": [0,0.01,0.02,0.03,0.04,0.05,0.06,0.07,0.08,0.09,0.1,0.11,0.12,0.13], "tickCount": 200, "format": ".2f", "labelFontSize": 5.2, "titleFontSize": 7.5, "tickSize": 2.5, "labelPadding": 1, "titlePadding": 6, "labelFlush": false, "labelOverlap": false}},
         "y2": {"field": "ch"}}},
       {"data": {"name": "B"}, "mark": {"type": "tick", "orient": "horizontal", "color": "#F4ABA5", "size": 3, "thickness": 1},
        "encoding": {"x": {"field": "x", "type": "quantitative"}, "y": {"field": "ch", "type": "quantitative"}}},
       {"data": {"name": "B"}, "mark": {"type": "rule", "color": "#A9B4DC", "strokeWidth": 1},
        "encoding": {"x": {"field": "x", "type": "quantitative"}, "y": {"field": "a", "type": "quantitative"}, "y2": {"field": "ah"}}},
       {"data": {"name": "B"}, "mark": {"type": "tick", "orient": "horizontal", "color": "#A9B4DC", "size": 3, "thickness": 1},
        "encoding": {"x": {"field": "x", "type": "quantitative"}, "y": {"field": "ah", "type": "quantitative"}}},
       {"data": {"name": "B"}, "mark": {"type": "line", "color": "#2E3A94", "strokeWidth": 1.5},
        "encoding": {"x": {"field": "x", "type": "quantitative"}, "y": {"field": "a", "type": "quantitative"}}},
       {"data": {"name": "B"}, "mark": {"type": "line", "color": "#E8222A", "strokeWidth": 1.5},
        "encoding": {"x": {"field": "x", "type": "quantitative"}, "y": {"field": "c", "type": "quantitative"}}},
       {"data": {"name": "sB"}, "mark": {"type": "text", "fontSize": 7, "fontWeight": "bold", "baseline": "middle"},
        "encoding": {"x": {"field": "x", "type": "quantitative"}, "y": {"field": "y", "type": "quantitative"}, "text": {"field": "s"}}},
       {"data": {"values": [{"x": 28.6}, {"x": 29.1}, {"x": 29.6}, {"x": 30.1}, {"x": 30.6}, {"x": 31.1}]},
        "mark": {"type": "text", "text": "↑", "font": "DejaVu Sans", "fontSize": 11, "fontWeight": "bold", "color": "#C8C43A", "baseline": "top", "dy": 7},
        "encoding": {"x": {"field": "x", "type": "quantitative"}, "y": {"datum": 0, "type": "quantitative"}}}
      ]
     }]}
  ]},
  {"spacing": 15, "resolve": {"scale": {"color": "independent"}, "legend": {"color": "independent"}}, "hconcat": [
    {"bounds": "flush", "resolve": {"scale": {"color": "independent"}, "legend": {"color": "independent"}}, "title": {"text": "C", "anchor": "start", "frame": "group", "fontSize": 12, "fontWeight": "normal", "dx": -44, "dy": 31, "offset": 0},
     "vconcat": [{
      "width": 318, "height": 101,
      "title": {"text": "High Activity Days 21-22", "fontSize": 9.5, "offset": -35},
      "layer": [
       {"data": {"values": [{"s": 10.4, "e": 22.5}, {"s": 35.9, "e": 48.2}]}, "mark": {"type": "rect", "color": "#8E8E8E"},
        "encoding": {"x": {"field": "s", "type": "quantitative", "scale": {"domain": [8.3, 56], "nice": false, "zero": false},
          "axis": {"title": "Half-hour bins", "values": [10,12,14,16,18,20,22,24,26,28,30,32,34,36,38,40,42,44,46,48,50,52,54,56], "tickCount": 200, "labelExpr": "(datum.value % 4 == 0 && datum.value >= 12 && datum.value <= 52) ? '' + (datum.value % 24) : ''", "labelFontSize": 7.5, "titleFontSize": 9.3, "tickSize": 3, "labelPadding": 1, "titlePadding": 13, "labelOverlap": false, "labelFlush": false}},
         "x2": {"field": "e"}}},
       {"data": {"name": "C"}, "mark": {"type": "rule", "color": "#F4ABA5", "strokeWidth": 1},
        "encoding": {"x": {"field": "x", "type": "quantitative"}, "y": {"field": "c", "type": "quantitative", "scale": {"domain": [0, 0.08], "nice": false},
          "axis": {"title": "fraction of high activity", "values": [0,0.01,0.02,0.03,0.04,0.05,0.06,0.07,0.08], "tickCount": 200, "format": ".2f", "labelFontSize": 7.2, "titleFontSize": 9, "tickSize": 3, "labelPadding": 1, "titlePadding": 5, "labelFlush": false, "labelOverlap": false}},
         "y2": {"field": "ch"}}},
       {"data": {"name": "C"}, "mark": {"type": "tick", "orient": "horizontal", "color": "#F4ABA5", "size": 3, "thickness": 1},
        "encoding": {"x": {"field": "x", "type": "quantitative"}, "y": {"field": "ch", "type": "quantitative"}}},
       {"data": {"name": "C"}, "mark": {"type": "rule", "color": "#A9B4DC", "strokeWidth": 1},
        "encoding": {"x": {"field": "x", "type": "quantitative"}, "y": {"field": "a", "type": "quantitative"}, "y2": {"field": "ah"}}},
       {"data": {"name": "C"}, "mark": {"type": "tick", "orient": "horizontal", "color": "#A9B4DC", "size": 3, "thickness": 1},
        "encoding": {"x": {"field": "x", "type": "quantitative"}, "y": {"field": "ah", "type": "quantitative"}}},
       {"data": {"name": "C"}, "mark": {"type": "line", "strokeWidth": 1.5},
        "encoding": {"x": {"field": "x", "type": "quantitative"}, "y": {"field": "a", "type": "quantitative"},
         "color": {"datum": "LS AL", "type": "nominal", "scale": {"domain": ["LS AL", "LS CR"], "range": ["#2E3A94", "#E8222A"]},
          "legend": {"title": null, "orient": "none", "legendX": 267, "legendY": -47, "symbolType": "stroke", "symbolStrokeWidth": 1.8, "symbolSize": 361, "labelFontSize": 11, "labelFontWeight": "bold", "rowPadding": -1, "labelOffset": 3}}}},
       {"data": {"name": "C"}, "mark": {"type": "line", "strokeWidth": 1.5},
        "encoding": {"x": {"field": "x", "type": "quantitative"}, "y": {"field": "c", "type": "quantitative"}, "color": {"datum": "LS CR", "type": "nominal"}}},
       {"data": {"name": "sC"}, "mark": {"type": "text", "fontSize": 7, "fontWeight": "bold", "baseline": "middle"},
        "encoding": {"x": {"field": "x", "type": "quantitative"}, "y": {"field": "y", "type": "quantitative"}, "text": {"field": "s"}}},
       {"data": {"values": [{"x": 28.2}, {"x": 28.7}, {"x": 29.3}, {"x": 29.8}, {"x": 30.4}, {"x": 30.9}]},
        "mark": {"type": "text", "text": "↑", "font": "DejaVu Sans", "fontSize": 12, "fontWeight": "bold", "color": "#C8C43A", "baseline": "top", "dy": 8},
        "encoding": {"x": {"field": "x", "type": "quantitative"}, "y": {"datum": 0, "type": "quantitative"}}},
       {"data": {"values": [{"x": 53.0}, {"x": 53.5}, {"x": 54.0}, {"x": 54.5}, {"x": 55.0}, {"x": 55.5}]},
        "mark": {"type": "text", "text": "⇡", "font": "DejaVu Sans", "fontSize": 12, "color": "#000", "baseline": "top", "dy": 8},
        "encoding": {"x": {"field": "x", "type": "quantitative"}, "y": {"datum": 0, "type": "quantitative"}}}
      ]
     }]},
    {"bounds": "flush", "title": {"text": "D", "anchor": "start", "frame": "group", "fontSize": 12, "fontWeight": "normal", "dx": -41, "dy": 3, "offset": 0},
     "vconcat": [{
      "width": 211, "height": 103,
      "title": {"text": "Fraction of HA during ZT 3-5", "fontSize": 8.5, "offset": 6},
      "data": {"name": "D"},
      "encoding": {
       "x": {"field": "d", "type": "nominal", "sort": ["0","14","17","21","22"], "scale": {"paddingInner": 0.33, "paddingOuter": 0.165},
        "axis": {"title": "Days on interval feeding schedule", "labelAngle": 0, "labelFontSize": 7.5, "titleFontSize": 8, "tickSize": 3, "labelPadding": 2, "titlePadding": 3}},
       "xOffset": {"field": "g", "type": "nominal", "sort": ["AL","CR"], "scale": {"paddingInner": 0.06}}
      },
      "layer": [
       {"mark": {"type": "bar", "stroke": "#222", "strokeWidth": 0.8},
        "encoding": {"y": {"field": "v", "type": "quantitative", "scale": {"domain": [0, 0.35], "nice": false},
          "axis": {"title": "fraction of HA", "values": [0,0.05,0.1,0.15,0.2,0.25,0.3,0.35], "tickCount": 200, "format": ".2f", "labelFontSize": 7.5, "titleFontSize": 8, "tickSize": 3, "labelPadding": 1, "titlePadding": 4, "labelFlush": false, "labelOverlap": false}},
         "color": {"field": "g", "type": "nominal", "scale": {"domain": ["AL","CR"], "range": ["#2F4C9E","#E4232B"]}, "legend": null}}},
       {"mark": {"type": "rule", "strokeWidth": 1.3},
        "encoding": {"y": {"field": "v", "type": "quantitative"}, "y2": {"field": "hi"}, "color": {"field": "g", "type": "nominal", "legend": null}}},
       {"mark": {"type": "tick", "orient": "horizontal", "size": 8, "thickness": 1.3},
        "encoding": {"y": {"field": "hi", "type": "quantitative"}, "color": {"field": "g", "type": "nominal", "legend": null}}},
       {"mark": {"type": "text", "fontSize": 8, "fontWeight": "bold", "baseline": "bottom", "dy": -3},
        "encoding": {"y": {"field": "hi", "type": "quantitative"}, "text": {"field": "s"}}}
      ]
     }]}
  ]}
 ]},
 {"spacing": 4, "resolve": {"scale": {"color": "independent"}, "legend": {"color": "independent"}}, "vconcat": [
  {"spacing": 0, "resolve": {"scale": {"color": "independent"}, "legend": {"color": "independent"}}, "hconcat": [
    {"bounds": "flush", "title": {"text": "E", "anchor": "start", "frame": "group", "fontSize": 12, "fontWeight": "normal", "dx": -34, "dy": -6, "offset": 0},
     "vconcat": [{
      "width": 278, "height": 95,
      "title": {"text": "High Activity Day 14", "fontSize": 8, "offset": 5},
      "layer": [
       {"data": {"name": "E"}, "mark": {"type": "bar", "color": "#F7B9AC", "width": 2.7},
        "encoding": {"x": {"field": "m", "type": "quantitative", "scale": {"domain": [1140, 1440], "nice": false, "zero": false},
          "axis": {"title": "one minute bins", "values": [1140,1160,1180,1200,1220,1240,1260,1280,1300,1320,1340,1360,1380,1400,1420,1440], "tickCount": 200, "format": "d", "labelFontSize": 6, "titleFontSize": 8, "tickSize": 3, "labelPadding": 1, "titlePadding": 29, "labelOverlap": false, "labelFlush": false}},
         "y": {"field": "ch", "type": "quantitative", "scale": {"domain": [0, 10], "nice": false},
          "axis": {"title": "seconds", "values": [0,2.5,5,7.5,10], "tickCount": 200, "format": ".1f", "labelFontSize": 6.5, "titleFontSize": 7, "tickSize": 3, "labelPadding": 1, "titlePadding": 5, "labelFlush": false, "labelOverlap": false}}}},
       {"data": {"name": "E"}, "mark": {"type": "bar", "color": "#B3BEE8", "width": 2.7},
        "encoding": {"x": {"field": "m", "type": "quantitative"}, "y": {"field": "ah", "type": "quantitative"}}},
       {"data": {"name": "E"}, "mark": {"type": "tick", "orient": "horizontal", "color": "#EC7B71", "size": 3.5, "thickness": 1},
        "encoding": {"x": {"field": "m", "type": "quantitative"}, "y": {"field": "ch", "type": "quantitative"}}},
       {"data": {"name": "E"}, "mark": {"type": "tick", "orient": "horizontal", "color": "#7083D3", "size": 3.5, "thickness": 1},
        "encoding": {"x": {"field": "m", "type": "quantitative"}, "y": {"field": "ah", "type": "quantitative"}}},
       {"data": {"name": "E"}, "mark": {"type": "line", "color": "#2B3990", "strokeWidth": 1},
        "encoding": {"x": {"field": "m", "type": "quantitative"}, "y": {"field": "a", "type": "quantitative"}}},
       {"data": {"name": "E"}, "mark": {"type": "line", "color": "#E8222A", "strokeWidth": 1.6},
        "encoding": {"x": {"field": "m", "type": "quantitative"}, "y": {"field": "c", "type": "quantitative"}}},
       {"data": {"values": [{"m": 1237.4}, {"m": 1268.7}, {"m": 1297.6}, {"m": 1329.3}, {"m": 1358.9}, {"m": 1387}]},
        "mark": {"type": "text", "text": "↑", "font": "DejaVu Sans", "fontSize": 16, "fontWeight": "bold", "color": "#C8C43A", "baseline": "top", "dy": 10},
        "encoding": {"x": {"field": "m", "type": "quantitative"}, "y": {"datum": 0, "type": "quantitative"}}},
       {"data": {"values": [{"m": 1417.3}]},
        "mark": {"type": "text", "text": "⇡", "font": "DejaVu Sans", "fontSize": 16, "color": "#000", "baseline": "top", "dy": 10},
        "encoding": {"x": {"field": "m", "type": "quantitative"}, "y": {"datum": 0, "type": "quantitative"}}},
       {"data": {"values": [{"m": 1136.8, "t": "ZT3"}, {"m": 1433.5, "t": "ZT8"}]},
        "mark": {"type": "text", "font": "Liberation Mono", "fontSize": 14, "baseline": "middle", "dy": 20},
        "encoding": {"x": {"field": "m", "type": "quantitative"}, "y": {"datum": 0, "type": "quantitative"}, "text": {"field": "t"}}}
      ]
     }]},
    {"bounds": "flush", "title": {"text": "F", "anchor": "start", "frame": "group", "fontSize": 12, "fontWeight": "normal", "dx": -34, "dy": -6, "offset": 0},
     "vconcat": [{
      "width": 278, "height": 99,
      "title": {"text": "High Activity Day 17", "fontSize": 8, "offset": 4},
      "layer": [
       {"data": {"name": "F"}, "mark": {"type": "bar", "color": "#F7B9AC", "width": 2.7},
        "encoding": {"x": {"field": "m", "type": "quantitative", "scale": {"domain": [1140, 1440], "nice": false, "zero": false},
          "axis": {"title": "one minute bins", "values": [1140,1160,1180,1200,1220,1240,1260,1280,1300,1320,1340,1360,1380,1400,1420,1440], "tickCount": 200, "format": "d", "labelFontSize": 6, "titleFontSize": 8, "tickSize": 3, "labelPadding": 1, "titlePadding": 25, "labelOverlap": false, "labelFlush": false}},
         "y": {"field": "ch", "type": "quantitative", "scale": {"domain": [0, 10], "nice": false},
          "axis": {"title": "seconds", "values": [0,2.5,5,7.5,10], "tickCount": 200, "format": ".1f", "labelFontSize": 6.5, "titleFontSize": 7, "tickSize": 3, "labelPadding": 1, "titlePadding": 5, "labelFlush": false, "labelOverlap": false}}}},
       {"data": {"name": "F"}, "mark": {"type": "bar", "color": "#B3BEE8", "width": 2.7},
        "encoding": {"x": {"field": "m", "type": "quantitative"}, "y": {"field": "ah", "type": "quantitative"}}},
       {"data": {"name": "F"}, "mark": {"type": "tick", "orient": "horizontal", "color": "#EC7B71", "size": 3.5, "thickness": 1},
        "encoding": {"x": {"field": "m", "type": "quantitative"}, "y": {"field": "ch", "type": "quantitative"}}},
       {"data": {"name": "F"}, "mark": {"type": "tick", "orient": "horizontal", "color": "#7083D3", "size": 3.5, "thickness": 1},
        "encoding": {"x": {"field": "m", "type": "quantitative"}, "y": {"field": "ah", "type": "quantitative"}}},
       {"data": {"name": "F"}, "mark": {"type": "line", "color": "#2B3990", "strokeWidth": 1},
        "encoding": {"x": {"field": "m", "type": "quantitative"}, "y": {"field": "a", "type": "quantitative"}}},
       {"data": {"name": "F"}, "mark": {"type": "line", "color": "#E8222A", "strokeWidth": 1.6},
        "encoding": {"x": {"field": "m", "type": "quantitative"}, "y": {"field": "c", "type": "quantitative"}}},
       {"data": {"values": [{"m": 1237.4}, {"m": 1268}, {"m": 1296.9}, {"m": 1329}, {"m": 1357.8}, {"m": 1386.7}]},
        "mark": {"type": "text", "text": "↑", "font": "DejaVu Sans", "fontSize": 16, "fontWeight": "bold", "color": "#C8C43A", "baseline": "top", "dy": 10},
        "encoding": {"x": {"field": "m", "type": "quantitative"}, "y": {"datum": 0, "type": "quantitative"}}},
       {"data": {"values": [{"m": 1417.7}]},
        "mark": {"type": "text", "text": "⇡", "font": "DejaVu Sans", "fontSize": 16, "color": "#000", "baseline": "top", "dy": 10},
        "encoding": {"x": {"field": "m", "type": "quantitative"}, "y": {"datum": 0, "type": "quantitative"}}},
       {"data": {"values": [{"m": 1148.6, "t": "ZT3"}, {"m": 1444, "t": "ZT8"}]},
        "mark": {"type": "text", "font": "Liberation Mono", "fontSize": 14, "baseline": "middle", "dy": 18},
        "encoding": {"x": {"field": "m", "type": "quantitative"}, "y": {"datum": 0, "type": "quantitative"}, "text": {"field": "t"}}}
      ]
     }]}
  ]},
  {"spacing": 1, "resolve": {"scale": {"color": "independent"}, "legend": {"color": "independent"}}, "hconcat": [
   {"bounds": "flush", "title": {"text": "G", "anchor": "start", "frame": "group", "fontSize": 12, "fontWeight": "normal", "dx": -16, "dy": 6, "offset": 0},
    "vconcat": [{
     "width": 187, "height": 65,
     "title": {"text": "High Activity Day 14", "fontSize": 5.2, "offset": 5},
     "layer": [
      {"data": {"name": "G"}, "mark": {"type": "line", "strokeWidth": 1, "color": "#E8222A"},
       "encoding": {"x": {"field": "m", "type": "quantitative", "scale": {"domain": [1140, 1440], "nice": false, "zero": false},
         "axis": {"title": "one minute bins", "values": [1140,1160,1180,1200,1220,1240,1260,1280,1300,1320,1340,1360,1380,1400,1420,1440], "tickCount": 200, "format": "d", "labelFontSize": 4, "titleFontSize": 5, "tickSize": 2, "labelPadding": 1, "titlePadding": 17, "labelOverlap": false, "labelFlush": false}},
        "y": {"field": "v", "type": "quantitative", "scale": {"domain": [0, 15], "nice": false},
         "axis": {"title": "seconds", "values": [0,2.5,5,7.5,10,12.5,15], "tickCount": 200, "format": ".1f", "labelFontSize": 4, "titleFontSize": 4.5, "tickSize": 2, "labelPadding": 0.5, "titlePadding": 1, "labelFlush": false, "labelOverlap": false}}}},
      {"data": {"values": [{"m1": 1400, "m2": 1414, "v": 10.6}]}, "mark": {"type": "rule", "color": "#E8222A", "strokeWidth": 1.2},
       "encoding": {"x": {"field": "m1", "type": "quantitative"}, "x2": {"field": "m2"}, "y": {"field": "v", "type": "quantitative"}}},
      {"data": {"values": [{"m": 1416, "v": 10.6, "t": "LS CR 901"}]}, "mark": {"type": "text", "fontSize": 4.5, "fontWeight": "bold", "align": "left", "baseline": "middle"},
       "encoding": {"x": {"field": "m", "type": "quantitative"}, "y": {"field": "v", "type": "quantitative"}, "text": {"field": "t"}}},
      {"data": {"values": [{"m": 1237.5}, {"m": 1268.4}, {"m": 1297}, {"m": 1329}, {"m": 1357}, {"m": 1385.6}]},
       "mark": {"type": "text", "text": "↑", "font": "DejaVu Sans", "fontSize": 11, "fontWeight": "bold", "color": "#C8C43A", "baseline": "top", "dy": 4},
       "encoding": {"x": {"field": "m", "type": "quantitative"}, "y": {"datum": 0, "type": "quantitative"}}},
      {"data": {"values": [{"m": 1415}]},
       "mark": {"type": "text", "text": "⇡", "font": "DejaVu Sans", "fontSize": 11, "color": "#000", "baseline": "top", "dy": 4},
       "encoding": {"x": {"field": "m", "type": "quantitative"}, "y": {"datum": 0, "type": "quantitative"}}},
      {"data": {"values": [{"m": 1154, "t": "ZT3"}, {"m": 1440, "t": "ZT8"}]},
       "mark": {"type": "text", "font": "Liberation Mono", "fontSize": 14, "baseline": "middle", "dy": 17},
       "encoding": {"x": {"field": "m", "type": "quantitative"}, "y": {"datum": 0, "type": "quantitative"}, "text": {"field": "t"}}}
     ]
    }]},
   {"bounds": "flush", "resolve": {"scale": {"color": "independent"}, "legend": {"color": "independent"}}, "title": {"text": "H", "anchor": "start", "frame": "group", "fontSize": 12, "fontWeight": "normal", "dx": -21, "dy": 0, "offset": 0},
    "vconcat": [{
     "width": 185, "height": 65,
     "title": {"text": "High Activity Day 17", "fontSize": 5.2, "offset": 5},
     "layer": [
      {"data": {"name": "H"}, "mark": {"type": "line", "strokeWidth": 1},
       "encoding": {"x": {"field": "m", "type": "quantitative", "scale": {"domain": [1140, 1440], "nice": false, "zero": false},
         "axis": {"title": "one minute bins", "values": [1140,1160,1180,1200,1220,1240,1260,1280,1300,1320,1340,1360,1380,1400,1420,1440], "tickCount": 200, "format": "d", "labelFontSize": 4, "titleFontSize": 5, "tickSize": 2, "labelPadding": 1, "titlePadding": 17, "labelOverlap": false, "labelFlush": false}},
        "y": {"field": "v", "type": "quantitative", "scale": {"domain": [0, 10], "nice": false},
         "axis": {"title": "seconds", "values": [0,2.5,5,7.5,10], "tickCount": 200, "format": ".1f", "labelFontSize": 4, "titleFontSize": 4.5, "tickSize": 2, "labelPadding": 0.5, "titlePadding": 1, "labelFlush": false, "labelOverlap": false}},
        "color": {"datum": "LS CR 903", "type": "nominal", "scale": {"range": ["#E8222A"]},
         "legend": {"title": null, "orient": "none", "legendX": 160, "legendY": 15, "symbolType": "stroke", "symbolStrokeWidth": 1.2, "symbolSize": 72, "labelFontSize": 4.5, "labelFontWeight": "bold", "labelOffset": 2}}}},
      {"data": {"values": [{"m": 1234.2}, {"m": 1264}, {"m": 1293.8}, {"m": 1325}, {"m": 1353.3}, {"m": 1381}]},
       "mark": {"type": "text", "text": "↑", "font": "DejaVu Sans", "fontSize": 11, "fontWeight": "bold", "color": "#C8C43A", "baseline": "top", "dy": 4},
       "encoding": {"x": {"field": "m", "type": "quantitative"}, "y": {"datum": 0, "type": "quantitative"}}},
      {"data": {"values": [{"m": 1409}]},
       "mark": {"type": "text", "text": "⇡", "font": "DejaVu Sans", "fontSize": 11, "color": "#000", "baseline": "top", "dy": 4},
       "encoding": {"x": {"field": "m", "type": "quantitative"}, "y": {"datum": 0, "type": "quantitative"}}},
      {"data": {"values": [{"m": 1136.7, "t": "ZT3"}, {"m": 1443, "t": "ZT8"}]},
       "mark": {"type": "text", "font": "Liberation Mono", "fontSize": 14, "baseline": "middle", "dy": 16},
       "encoding": {"x": {"field": "m", "type": "quantitative"}, "y": {"datum": 0, "type": "quantitative"}, "text": {"field": "t"}}}
     ]
    }]},
   {"bounds": "flush", "resolve": {"scale": {"color": "independent"}, "legend": {"color": "independent"}}, "title": {"text": "I", "anchor": "start", "frame": "group", "fontSize": 12, "fontWeight": "normal", "dx": -20, "dy": 2, "offset": 0},
    "vconcat": [{
     "width": 186, "height": 65,
     "title": {"text": "High Activity Day 14", "fontSize": 5.2, "offset": 5},
     "layer": [
      {"data": {"name": "I"}, "mark": {"type": "line", "strokeWidth": 1},
       "encoding": {"x": {"field": "m", "type": "quantitative", "scale": {"domain": [1140, 1440], "nice": false, "zero": false},
         "axis": {"title": "one minute bins", "values": [1140,1170,1200,1230,1260,1290,1320,1350,1380,1410,1440], "tickCount": 200, "format": "d", "labelFontSize": 4, "titleFontSize": 5, "tickSize": 2, "labelPadding": 1, "titlePadding": 17, "labelOverlap": false, "labelFlush": false}},
        "y": {"field": "v", "type": "quantitative", "scale": {"domain": [0, 10], "nice": false},
         "axis": {"title": "seconds", "values": [0,2.5,5,7.5,10], "tickCount": 200, "format": ".1f", "labelFontSize": 4, "titleFontSize": 4.5, "tickSize": 2, "labelPadding": 0.5, "titlePadding": 1, "labelFlush": false, "labelOverlap": false}},
        "color": {"datum": "LS CR 905", "type": "nominal", "scale": {"range": ["#E8222A"]},
         "legend": {"title": null, "orient": "none", "legendX": 156, "legendY": 3, "symbolType": "stroke", "symbolStrokeWidth": 1.2, "symbolSize": 72, "labelFontSize": 4.5, "labelFontWeight": "bold", "labelOffset": 2}}}},
      {"data": {"values": [{"m": 1236.4}, {"m": 1268}, {"m": 1295.3}, {"m": 1327.5}, {"m": 1358}, {"m": 1385.8}]},
       "mark": {"type": "text", "text": "↑", "font": "DejaVu Sans", "fontSize": 11, "fontWeight": "bold", "color": "#C8C43A", "baseline": "top", "dy": 4},
       "encoding": {"x": {"field": "m", "type": "quantitative"}, "y": {"datum": 0, "type": "quantitative"}}},
      {"data": {"values": [{"m": 1404.6}]},
       "mark": {"type": "text", "text": "⇡", "font": "DejaVu Sans", "fontSize": 11, "color": "#000", "baseline": "top", "dy": 4},
       "encoding": {"x": {"field": "m", "type": "quantitative"}, "y": {"datum": 0, "type": "quantitative"}}},
      {"data": {"values": [{"m": 1148.9, "t": "ZT3"}, {"m": 1438, "t": "ZT8"}]},
       "mark": {"type": "text", "font": "Liberation Mono", "fontSize": 14, "baseline": "middle", "dy": 16},
       "encoding": {"x": {"field": "m", "type": "quantitative"}, "y": {"datum": 0, "type": "quantitative"}, "text": {"field": "t"}}}
     ]
    }]}
  ]}
 ]}
]
}
